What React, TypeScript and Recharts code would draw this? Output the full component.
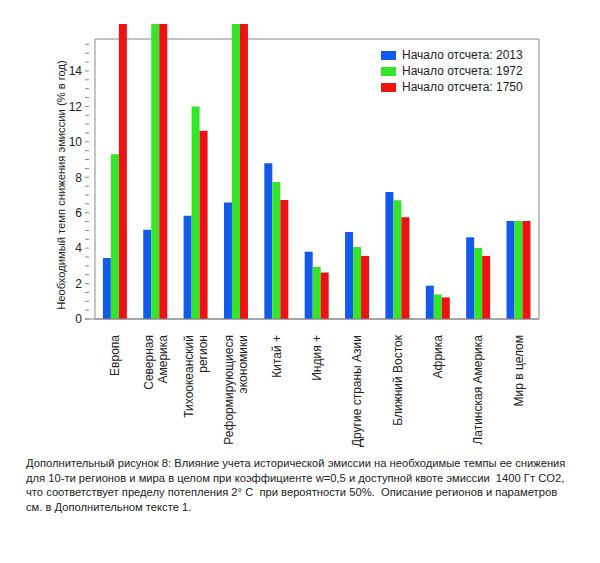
import { BarChart, Bar, XAxis, YAxis, ReferenceArea } from "recharts";

// регионы (перенос строки — как в подписи на рисунке)
const REGIONS = [
  "Европа",
  "Северная\nАмерика",
  "Тихоокеанский\nрегион",
  "Реформирующиеся\nэкономики",
  "Китай +",
  "Индия +",
  "Другие страны Азии",
  "Ближний Восток",
  "Африка",
  "Латинская Америка",
  "Мир в целом",
];

// % в год; значения > 15.8 обрезаны верхней границей графика
const START_2013 = [3.44, 5.04, 5.83, 6.57, 8.79, 3.8, 4.91, 7.17, 1.88, 4.61, 5.53];
const START_1972 = [9.3, 16.65, 11.99, 16.65, 7.73, 2.94, 4.06, 6.7, 1.39, 4.01, 5.53];
const START_1750 = [16.65, 16.65, 10.63, 16.65, 6.72, 2.62, 3.56, 5.74, 1.22, 3.56, 5.53];

const SERIES = [
  { key: "s2013", name: "Начало отсчета: 2013", color: "#1259ee" },
  { key: "s1972", name: "Начало отсчета: 1972", color: "#33e62a" },
  { key: "s1750", name: "Начало отсчета: 1750", color: "#ee1212" },
];

const Y_TICKS = Array.from({ length: 32 }, (_, i) => i * 0.5);
const FRAME_TOP = 15.8;
const FONT = "'Liberation Sans', Arial, sans-serif";

const data = REGIONS.map((name, i) => ({
  name,
  s2013: START_2013[i],
  s1972: START_1972[i],
  s1750: START_1750[i],
}));

function RegionTick({ x, y, payload }: any) {
  const lines = String(payload.value).split("\n");
  const step = 14;
  const first = -((lines.length - 1) * step) / 2 + 4;
  return (
    <g transform={`translate(${x},${y + 8})`}>
      <text
        transform="rotate(-90)"
        textAnchor="end"
        fontSize={12}
        fill="#222"
        fontFamily={FONT}
      >
        {lines.map((l, i) => (
          <tspan key={i} x={0} y={first + i * step}>
            {l}
          </tspan>
        ))}
      </text>
    </g>
  );
}

function YTitle() {
  return (
    <text
      x={61}
      y={185}
      transform="rotate(-90 61 185)"
      textAnchor="middle"
      dominantBaseline="central"
      fontSize={11.2}
      fill="#222"
      fontFamily={FONT}
    >
      Необходимый темп снижения эмиссии (% в год)
    </text>
  );
}

function LegendBox() {
  return (
    <div
      style={{
        position: "absolute",
        left: 381,
        top: 47,
        fontFamily: FONT,
        fontSize: 12,
        color: "#222",
      }}
    >
      {SERIES.map((s) => (
        <div key={s.key} style={{ display: "flex", alignItems: "center", height: 16 }}>
          <span
            style={{
              display: "inline-block",
              width: 15,
              height: 9,
              background: s.color,
              marginRight: 6,
            }}
          />
          {s.name}
        </div>
      ))}
    </div>
  );
}

export default function App() {
  return (
    <div
      style={{
        position: "absolute",
        left: 0,
        top: 0,
        width: 600,
        height: 563,
        background: "#fff",
      }}
    >
      <BarChart
        width={600}
        height={460}
        data={data}
        margin={{ top: 24, right: 55, bottom: 0, left: 0 }}
        barCategoryGap="19.5%"
        barGap={0}
      >
        <XAxis
          dataKey="name"
          interval={0}
          height={141}
          tick={<RegionTick />}
          tickLine={false}
          axisLine={{ stroke: "#888" }}
          padding={{ left: 10, right: 0 }}
        />
        <YAxis
          domain={[0, 16.65]}
          ticks={Y_TICKS}
          interval={0}
          width={85}
          tickSize={-4}
          tickMargin={7}
          axisLine={false}
          tickLine={{ stroke: "#888" }}
          tick={{ fontSize: 12, fill: "#222", fontFamily: FONT }}
          tickFormatter={(v: number) => (v % 2 === 0 ? String(v) : "")}
          label={() => <YTitle />}
        />
        <YAxis
          yAxisId="right"
          orientation="right"
          domain={[0, 16.65]}
          ticks={Y_TICKS}
          interval={0}
          width={6}
          tickSize={-4}
          axisLine={false}
          tickLine={{ stroke: "#888" }}
          tick={false}
        />
        <ReferenceArea
          y1={0}
          y2={FRAME_TOP}
          fill="none"
          stroke="#888"
          strokeWidth={1}
          ifOverflow="visible"
        />
        {SERIES.map((s) => (
          <Bar
            key={s.key}
            dataKey={s.key}
            name={s.name}
            fill={s.color}
            isAnimationActive={false}
          />
        ))}
      </BarChart>
      <LegendBox />
      <div
        style={{
          position: "absolute",
          left: 26,
          top: 456,
          width: 574,
          fontFamily: FONT,
          fontSize: 11.2,
          lineHeight: "14.5px",
          color: "#222",
          whiteSpace: "pre",
        }}
      >
        {"Дополнительный рисунок 8: Влияние учета исторической эмиссии на необходимые темпы ее снижения\n" +
          "для 10-ти регионов и мира в целом при коэффициенте w=0,5 и доступной квоте эмиссии  1400 Гт CO2,\n" +
          "что соответствует пределу потепления 2° C  при вероятности 50%.  Описание регионов и параметров\n" +
          "см. в Дополнительном тексте 1."}
      </div>
    </div>
  );
}
